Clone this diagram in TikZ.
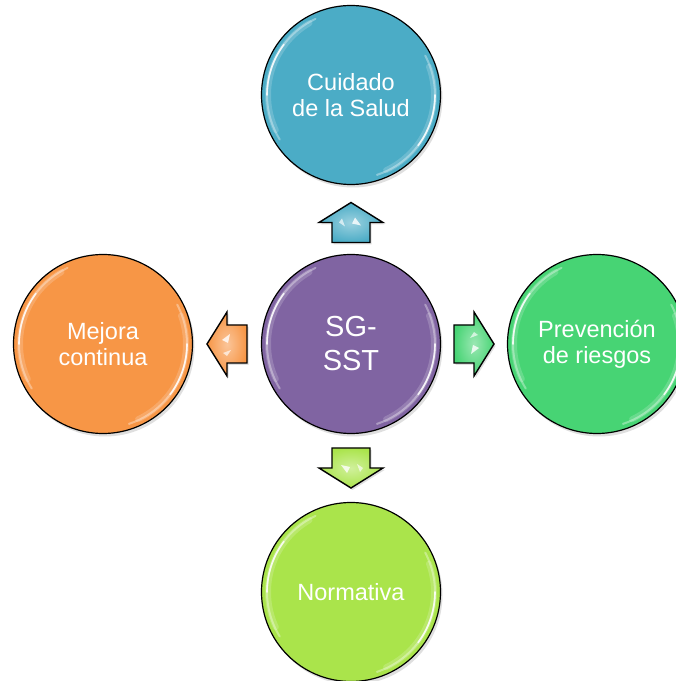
\documentclass[tikz,border=0pt]{standalone}
\usepackage{fontspec}
\setmainfont{Liberation Sans}
\usetikzlibrary{shadows,calc}
\definecolor{cblue}{HTML}{4BACC6}
\definecolor{cpurple}{HTML}{8064A2}
\definecolor{corange}{HTML}{F79646}
\definecolor{cgreen}{HTML}{47D474}
\definecolor{clime}{HTML}{AAE44B}
\tikzset{
  bubble/.style={circle, draw=black, line width=1.2pt, minimum size=179pt, inner sep=0pt,
    text=white, align=center, font=\fontsize{23.5}{26}\selectfont,
    drop shadow={opacity=0.25, shadow xshift=2pt, shadow yshift=-3pt}},
  blockarrow/.style={draw=black, line width=1.4pt, line join=miter,
    drop shadow={opacity=0.25, shadow xshift=1.5pt, shadow yshift=-2pt}},
  glossA/.style={white, opacity=0.18, line width=6pt, line cap=round},
  glossB/.style={white, opacity=0.35, line width=2pt, line cap=round},
  glossC/.style={white, opacity=0.85, line width=1.6pt, line cap=round},
}
\newcommand{\glossy}[1]{%
  \draw[glossA] ($(#1.center)+(120:83)$) arc[start angle=120, end angle=205, radius=83];
  \draw[glossB] ($(#1.center)+(115:84)$) arc[start angle=115, end angle=212, radius=84];
  \draw[glossC] ($(#1.center)+(143:84)$) arc[start angle=143, end angle=180, radius=84];
  \draw[glossA] ($(#1.center)+(-65:83)$) arc[start angle=-65, end angle=20, radius=83];
  \draw[glossB] ($(#1.center)+(-72:84)$) arc[start angle=-72, end angle=28, radius=84];
  \draw[glossC] ($(#1.center)+(-37:84)$) arc[start angle=-37, end angle=0, radius=84];
}
\newcommand{\barrow}[3]{% midpoint, angle, colour
  \draw[blockarrow, inner color=#3!55, outer color=#3, shift={(#1)}, rotate=#2]
    (-20,-19) -- (0,-19) -- (0,-32) -- (20,0) -- (0,32) -- (0,19) -- (-20,19) -- cycle;
  \fill[white, opacity=0.8, shift={(#1)}, rotate=#2]
    (-3,-10) -- (5,-4) -- (-1,-1) -- cycle;
  \fill[white, opacity=0.65, shift={(#1)}, rotate=#2]
    (-4,6) -- (4,9) -- (0,12) -- cycle;
}
\begin{document}
\begin{tikzpicture}[x=1pt, y=1pt]
\useasboundingbox (0,0) rectangle (676,681);
\clip (0,0) rectangle (676,681);
\fill[white] (0,0) rectangle (676,681);

\node[bubble, fill=cpurple, font=\fontsize{29}{34}\selectfont] (c) at (351,337) {SG-\\SST};
\node[bubble, fill=cblue] (t) at (351,586) {Cuidado\\de la Salud};
\node[bubble, fill=corange] (l) at (103,337) {Mejora\\continua};
\node[bubble, fill=cgreen] (r) at (597,337) {Prevención\\de riesgos};
\node[bubble, fill=clime] (b) at (351,89) {Normativa};

\glossy{c}\glossy{t}\glossy{l}\glossy{r}\glossy{b}

\coordinate (mt) at ($(c.north)!0.5!(t.south)+(0,-3)$);
\coordinate (ml) at ($(c.west)!0.5!(l.east)$);
\coordinate (mr) at ($(c.east)!0.5!(r.west)$);
\coordinate (mb) at ($(c.south)!0.5!(b.north)$);

\barrow{mt}{90}{cblue}
\barrow{ml}{180}{corange}
\barrow{mr}{0}{cgreen}
\barrow{mb}{-90}{clime}
\end{tikzpicture}
\end{document}
